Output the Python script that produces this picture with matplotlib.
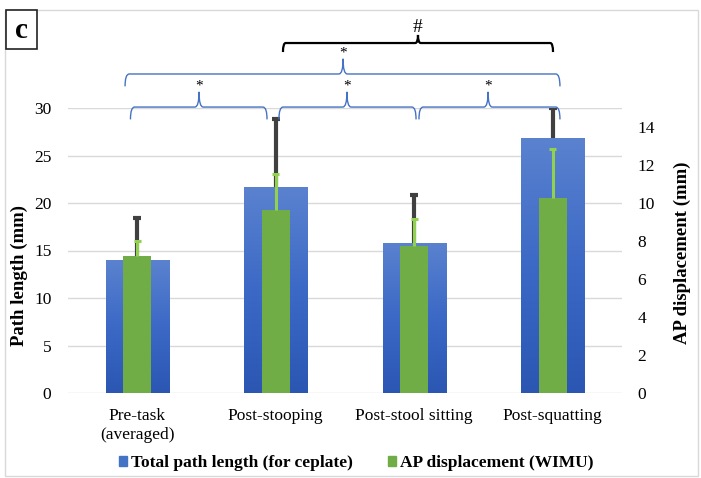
import numpy as np
import matplotlib
matplotlib.use("Agg")
import matplotlib.pyplot as plt
from matplotlib.path import Path
from matplotlib.patches import PathPatch, Rectangle
from matplotlib.colors import LinearSegmentedColormap

# ---------------- data ----------------
categories = ["Pre-task\n(averaged)", "Post-stooping", "Post-stool sitting", "Post-squatting"]
path_length = [14.0, 21.65, 15.8, 26.8]          # mm, left axis
path_length_err = [4.45, 7.2, 5.0, 3.25]
ap_disp = [7.23, 9.63, 7.75, 10.28]              # mm, right axis
ap_disp_err = [0.79, 1.88, 1.39, 2.55]
left_ticks = [0, 5, 10, 15, 20, 25, 30]
right_ticks = [0, 2, 4, 6, 8, 10, 12, 14]
series_names = ["Total path length (for ceplate)", "AP displacement (WIMU)"]

# significance brackets: (x_start, x_end, x_peak, y_line, label)
blue_brackets = [(-0.088, 3.052, 1.486, 33.58, "*"),
                 (-0.049, 0.937, 0.446, 30.1, "*"),
                 (1.023, 2.013, 1.514, 30.1, "*"),
                 (2.034, 3.052, 2.533, 30.1, "*")]
black_bracket = (1.052, 3.002, 2.027, 36.84, "#")

# ---------------- style ----------------
plt.rcParams['font.family'] = ['Liberation Serif', 'DejaVu Serif']
BLUE = "#4472C4"
GREEN = "#70AD47"
GREEN_ERR = "#92D050"
DARK = "#404040"

fig = plt.figure(figsize=(7.01, 4.78), dpi=100)
W, H = 701, 478
ax = fig.add_axes([68 / W, 1 - 393 / H, (622 - 68) / W, (393 - 108) / H])
ax2 = ax.twinx()

x = np.arange(len(categories))
bw_blue = 0.455
bw_green = 0.2


def upper_err(a, xs, ys, errs, color, lw, capw):
    xs = np.asarray(xs, float)
    tops = np.asarray(ys, float) + np.asarray(errs, float)
    a.vlines(xs, ys, tops, colors=color, lw=lw, zorder=3)
    a.hlines(tops, xs - capw, xs + capw, colors=color, lw=lw, zorder=3)


bars = ax.bar(x, path_length, width=bw_blue, color=BLUE, zorder=2)
cmap = LinearSegmentedColormap.from_list("g", ["#2B57B3", "#3C69C6", "#5A82CF"])
grad = np.linspace(0, 1, 256).reshape(-1, 1)
for b in bars:
    x0, y0 = b.get_x(), b.get_y()
    im = ax.imshow(grad, extent=[x0, x0 + b.get_width(), y0, y0 + b.get_height()],
                   origin="lower", aspect="auto", cmap=cmap, zorder=2.1)
    im.set_clip_path(b)
upper_err(ax, x, path_length, path_length_err, DARK, 3.0, 0.03)

ax2.bar(x, ap_disp, width=bw_green, color=GREEN, zorder=2)
upper_err(ax2, x, ap_disp, ap_disp_err, GREEN_ERR, 2.2, 0.025)

ax.set_xlim(-0.5, 3.5)
ax.set_ylim(0, 30)
ax2.set_ylim(0, 15)
ax.set_yticks(left_ticks)
ax2.set_yticks(right_ticks)
ax.set_xticks(x)
ax.set_xticklabels(categories, fontsize=12.5, linespacing=1.25)
ax.tick_params(axis="x", length=0, pad=11)
ax.tick_params(axis="y", length=0, pad=12, labelsize=12.5)
ax2.tick_params(axis="y", length=0, pad=11, labelsize=12.5)
ax.grid(axis="y", color="#D9D9D9", linewidth=1.0, zorder=0)
ax.set_axisbelow(True)
for a in (ax, ax2):
    for s in a.spines.values():
        s.set_visible(False)
ax.patch.set_visible(False)

fig.text(19 / W, 1 - 275 / H, "Path length (mm)", rotation=90, ha="center", va="center",
         fontsize=13.5, fontweight="bold")
fig.text(682 / W, 1 - 253 / H, "AP displacement (mm)", rotation=90, ha="center", va="center",
         fontsize=13.5, fontweight="bold")


# ---------------- brackets ----------------
def brace(a, x0, x1, xp, y, down, up, hook, color, lw):
    verts = [(x0, y - down), (x0, y), (x0 + hook, y),
             (xp - hook, y), (xp, y), (xp, y + up),
             (xp, y), (xp + hook, y),
             (x1 - hook, y), (x1, y), (x1, y - down)]
    codes = [Path.MOVETO, Path.CURVE3, Path.CURVE3,
             Path.LINETO, Path.CURVE3, Path.CURVE3,
             Path.CURVE3, Path.CURVE3,
             Path.LINETO, Path.CURVE3, Path.CURVE3]
    p = PathPatch(Path(verts, codes), facecolor="none", edgecolor=color, lw=lw,
                  clip_on=False, zorder=5)
    a.add_patch(p)


for (x0, x1, xp, y, lab) in blue_brackets:
    brace(ax, x0, x1, xp, y, 1.3, 1.6, 0.03, BLUE, 1.0)
    ax.text(xp, y + 1.5, lab, ha="center", va="bottom", fontsize=11, clip_on=False)

bx0, bx1, bxp, by, blab = black_bracket
brace(ax, bx0, bx1, bxp, by, 0.95, 0.85, 0.02, "black", 1.6)
ax.text(bxp, by + 0.75, blab, ha="center", va="bottom", fontsize=14, clip_on=False)

# ---------------- legend ----------------
handles = [Rectangle((0, 0), 1, 1, color=BLUE), Rectangle((0, 0), 1, 1, color=GREEN)]
fig.legend(handles, series_names, loc="center", bbox_to_anchor=(356 / W, 1 - 463 / H),
           ncol=2, frameon=False, handlelength=0.5, handleheight=0.5,
           handletextpad=0.2, columnspacing=2.0,
           prop={"family": "Liberation Serif", "weight": "bold", "size": 12.5})

# ---------------- frame and panel label ----------------
fig.patches.append(Rectangle((5 / W, 2 / H), 693 / W, (476 - 10) / H, transform=fig.transFigure,
                             facecolor="none", edgecolor="#D9D9D9", lw=1.0))
fig.patches.append(Rectangle((6 / W, 1 - 49 / H), 31 / W, 39 / H, transform=fig.transFigure,
                             facecolor="white", edgecolor="#222222", lw=1.2))
fig.text(21.5 / W, 1 - 30 / H, "c", ha="center", va="center", fontsize=21, fontweight="bold")

fig.savefig("out.png", dpi=100)
